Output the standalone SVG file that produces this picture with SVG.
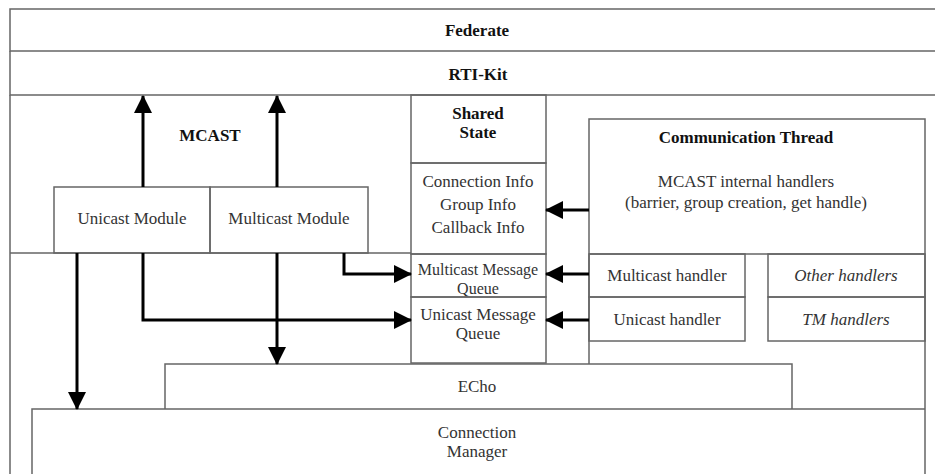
<svg xmlns="http://www.w3.org/2000/svg" width="935" height="474" viewBox="0 0 935 474">
  <style>
    .box { fill: none; stroke: #666; stroke-width: 1.5; }
    .lbl { font-family: "Liberation Serif", "Times New Roman", serif; font-size: 17px; fill: #333; text-anchor: middle; }
    .ttl { font-family: "Liberation Serif", "Times New Roman", serif; font-size: 17px; font-weight: bold; fill: #111; text-anchor: middle; }
    .it { font-style: italic; }
    .sm { font-size: 16px; }
    .flow { fill: none; stroke: #000; stroke-width: 3; marker-end: url(#head); }
  </style>
  <defs>
    <marker id="head" markerUnits="userSpaceOnUse" markerWidth="18" markerHeight="18" refX="17" refY="9" orient="auto">
      <path d="M0,0 L18,9 L0,18 z" fill="#000"/>
    </marker>
  </defs>
  <rect width="935" height="474" fill="#fff"/>

  <!-- top layers -->
  <g id="federate">
    <path class="box" d="M935,9 H10 V51 H935"/>
    <text class="ttl" x="477" y="36">Federate</text>
  </g>
  <g id="rti-kit">
    <path class="box" d="M10,51 V95 H935"/>
    <text class="ttl" x="478" y="80">RTI-Kit</text>
  </g>

  <!-- MCAST layer -->
  <g id="mcast">
    <path class="box" d="M10,95 V474 M10,253 H411"/>
    <text class="ttl" x="210" y="141">MCAST</text>
  </g>
  <g id="unicast-module">
    <rect class="box" x="54" y="187" width="156" height="66"/>
    <text class="lbl" x="132" y="224">Unicast Module</text>
  </g>
  <g id="multicast-module">
    <rect class="box" x="210" y="187" width="158" height="66"/>
    <text class="lbl" x="289" y="224">Multicast Module</text>
  </g>

  <!-- shared state column -->
  <g id="shared-state">
    <rect class="box" x="411" y="95" width="135" height="68"/>
    <text class="ttl" x="478" y="119">Shared</text>
    <text class="ttl" x="478" y="138">State</text>
  </g>
  <g id="state-info">
    <rect class="box" x="411" y="163" width="135" height="91"/>
    <text class="lbl" x="478" y="187">Connection Info</text>
    <text class="lbl" x="478" y="210">Group Info</text>
    <text class="lbl" x="478" y="233">Callback Info</text>
  </g>
  <g id="multicast-queue">
    <rect class="box" x="411" y="254" width="135" height="43"/>
    <text class="lbl sm" x="478" y="275">Multicast Message</text>
    <text class="lbl sm" x="478" y="294">Queue</text>
  </g>
  <g id="unicast-queue">
    <rect class="box" x="411" y="297" width="135" height="66"/>
    <text class="lbl" x="478" y="320">Unicast Message</text>
    <text class="lbl" x="478" y="339">Queue</text>
  </g>

  <!-- communication thread -->
  <g id="comm-thread">
    <path class="box" d="M589,364 V119 H925 V474 M589,254 H925"/>
    <text class="ttl" x="746" y="143">Communication Thread</text>
    <text class="lbl" x="746" y="187">MCAST internal handlers</text>
    <text class="lbl" x="746" y="208">(barrier, group creation, get handle)</text>
  </g>
  <g id="multicast-handler">
    <rect class="box" x="589" y="254" width="156" height="43"/>
    <text class="lbl" x="667" y="281">Multicast handler</text>
  </g>
  <g id="unicast-handler">
    <rect class="box" x="589" y="297" width="156" height="44"/>
    <text class="lbl" x="667" y="325">Unicast handler</text>
  </g>
  <g id="other-handlers">
    <rect class="box" x="768" y="254" width="157" height="43"/>
    <text class="lbl it" x="846" y="281">Other handlers</text>
  </g>
  <g id="tm-handlers">
    <rect class="box" x="768" y="297" width="157" height="44"/>
    <text class="lbl it" x="846" y="325">TM handlers</text>
  </g>

  <!-- transport layers -->
  <g id="echo">
    <path class="box" d="M165,409 V364 H792 V409"/>
    <text class="lbl" x="477" y="392">ECho</text>
  </g>
  <g id="connection-manager">
    <path class="box" d="M32,474 V409 H925"/>
    <text class="lbl" x="477" y="438">Connection</text>
    <text class="lbl" x="477" y="457">Manager</text>
  </g>

  <!-- data flow -->
  <g id="connectors">
    <path class="flow" d="M143,187 V96"/>
    <path class="flow" d="M277,187 V96"/>
    <path class="flow" d="M77,253 V409"/>
    <path class="flow" d="M143,253 V320 H411"/>
    <path class="flow" d="M277,253 V364"/>
    <path class="flow" d="M344,253 V274 H411"/>
    <path class="flow" d="M589,210 H546"/>
    <path class="flow" d="M589,274 H546"/>
    <path class="flow" d="M589,320 H546"/>
  </g>
</svg>
